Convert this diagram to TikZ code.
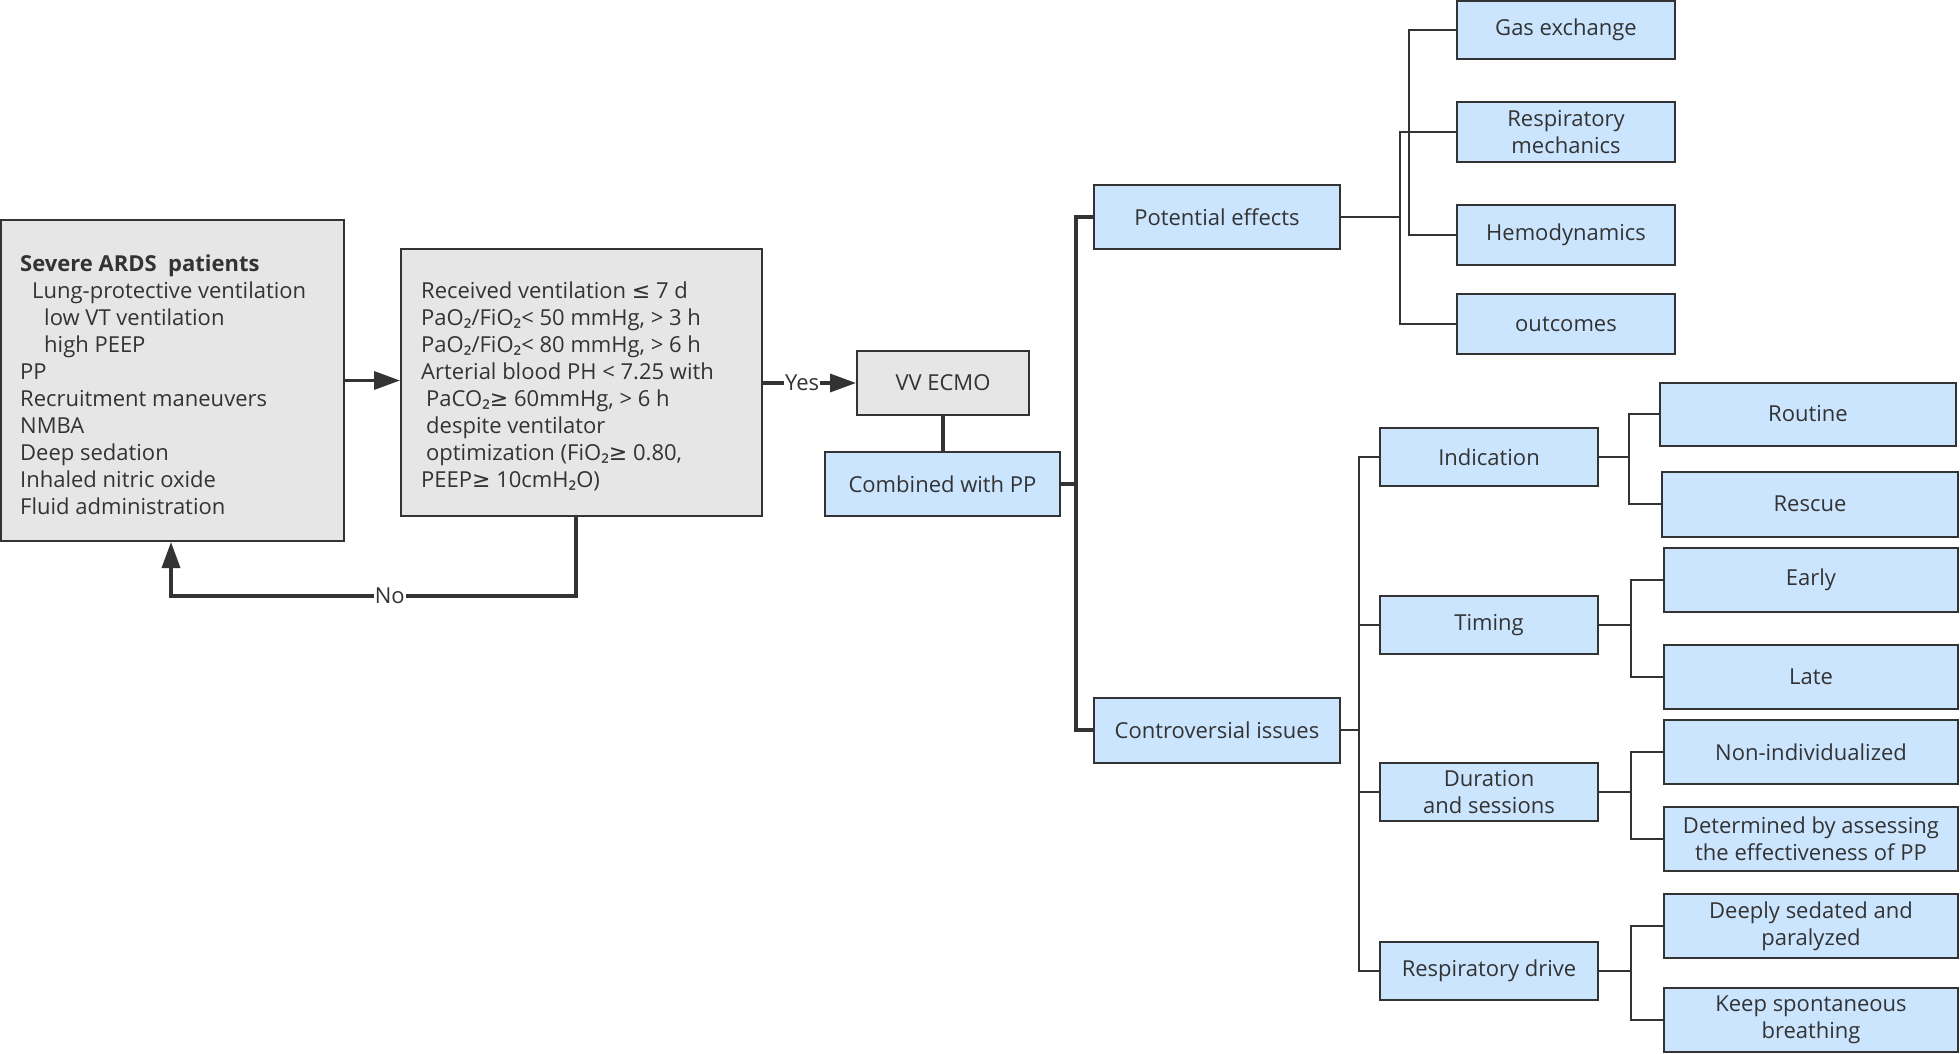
\documentclass[tikz,border=0pt]{standalone}
\usepackage{fontspec}
\setmainfont{Open Sans}
\newfontfamily\symfont{DejaVu Sans}
\newfontfamily\subfont{Noto Sans}
\newcommand{\myle}{{\symfont ≤}}
\newcommand{\myge}{{\symfont ≥}}
\newcommand{\two}{{\subfont ₂}}
\usetikzlibrary{arrows.meta}
\definecolor{bluefill}{HTML}{CCE5FF}
\definecolor{grayfill}{HTML}{E6E6E6}
\definecolor{edgecol}{HTML}{333333}
\definecolor{txtcol}{HTML}{333333}
\tikzset{
  box/.style={draw=edgecol, line width=2pt, fill=bluefill, inner sep=0pt, align=center, text=txtcol},
  gbox/.style={box, fill=grayfill},
  conn/.style={draw=edgecol, line width=3.5pt, line join=miter},
  tconn/.style={draw=edgecol, line width=1.8pt, line join=miter},
  arr/.style={-{Triangle[length=26pt,width=18pt]}},
  lbl/.style={fill=white, inner sep=1pt, text=txtcol},
  txtblock/.style={anchor=west, align=left, inner sep=0pt, text=txtcol}
}
\begin{document}
\begin{tikzpicture}[x=1pt, y=-1pt, font=\fontsize{22}{27}\selectfont]
\fill[white] (0,0) rectangle (1960,1054);
\useasboundingbox (0,0) rectangle (1960,1054);

% left boxes
\node[gbox, minimum width=343pt, minimum height=321pt] (A) at (172.5,380.5) {};
\node[txtblock] (Atext) at (20,385) {\textbf{Severe ARDS\ \ patients}\\
\hspace*{12pt}Lung-protective ventilation\\
\hspace*{24pt}low VT ventilation\\
\hspace*{24pt}high PEEP\\
PP\\
Recruitment maneuvers\\
NMBA\\
Deep sedation\\
Inhaled nitric oxide\\
Fluid administration};

\node[gbox, minimum width=361pt, minimum height=267pt] (B) at (581.5,382.5) {};
\node[txtblock] (Btext) at (421,386) {Received ventilation \myle{} 7 d\\
PaO\two/FiO\two< 50 mmHg, > 3 h\\
PaO\two/FiO\two< 80 mmHg, > 6 h\\
Arterial blood PH < 7.25 with\\
\hspace*{5pt}PaCO\two\myge{} 60mmHg, > 6 h\\
\hspace*{5pt}despite ventilator\\
\hspace*{5pt}optimization (FiO\two\myge{} 0.80,\\
PEEP\myge{} 10cmH\two O)};

\node[gbox, minimum width=172pt, minimum height=64pt] (VV) at (943,383) {VV ECMO};
\node[box, minimum width=235pt, minimum height=64pt] (C) at (942.5,484) {Combined with PP};

\node[box, minimum width=246pt, minimum height=64pt] (PE) at (1217,217) {Potential effects};
\node[box, minimum width=246pt, minimum height=65pt] (CI) at (1217,730) {Controversial issues};

% potential effects children
\node[box, minimum width=218pt, minimum height=58pt] (gas) at (1566,30) {Gas exchange};
\node[box, minimum width=218pt, minimum height=60pt] (resp) at (1566,132) {Respiratory\\mechanics};
\node[box, minimum width=218pt, minimum height=60pt] (hemo) at (1566,235) {Hemodynamics};
\node[box, minimum width=218pt, minimum height=60pt] (outc) at (1566,324) {outcomes};

% controversial issues children
\node[box, minimum width=218pt, minimum height=58pt] (ind) at (1489,457) {Indication};
\node[box, minimum width=218pt, minimum height=58pt] (tim) at (1489,625) {Timing};
\node[box, minimum width=218pt, minimum height=58pt] (dur) at (1489,792) {Duration\\and sessions};
\node[box, minimum width=218pt, minimum height=58pt] (rd) at (1489,971) {Respiratory drive};

\node[box, minimum width=296pt, minimum height=63pt] (rout) at (1808,414) {Routine};
\node[box, minimum width=296pt, minimum height=65pt] (resc) at (1810,504) {Rescue};
\node[box, minimum width=294pt, minimum height=64pt] (early) at (1811,580) {Early};
\node[box, minimum width=294pt, minimum height=64pt] (late) at (1811,677) {Late};
\node[box, minimum width=294pt, minimum height=64pt] (nonind) at (1811,752) {Non-individualized};
\node[box, minimum width=294pt, minimum height=64pt] (det) at (1811,839) {Determined by assessing\\the effectiveness of PP};
\node[box, minimum width=294pt, minimum height=64pt] (deep) at (1811,926) {Deeply sedated and\\paralyzed};
\node[box, minimum width=294pt, minimum height=64pt] (keep) at (1811,1020) {Keep spontaneous\\breathing};

% left connectors
\draw[conn, arr] (A.east) -- (A.east -| B.west);
\draw[conn, arr] (B.east |- VV.west) -- node[lbl, pos=0.42] (yes) {Yes} (VV.west);
\draw[conn, arr] ([xshift=-5.5pt]B.south) -- (576,596) -- node[lbl, pos=0.46] (no) {No} (171,596) -- (171,0 |- A.south);
\draw[conn] (VV.south) -- (VV.south |- C.north);

% trunk
\draw[conn] (C.east) -- (1076,0 |- C.east);
\draw[conn] (PE.west) -- (1076,0 |- PE.west) -- (1076,0 |- CI.west) -- (CI.west);

% potential effects branches
\draw[tconn] (PE.east) -- (1400,0 |- PE.east);
\draw[tconn] (resp.west) -- (1400,0 |- resp.west) -- (1400,0 |- outc.west) -- (outc.west);
\draw[tconn] (gas.west) -- (1409,0 |- gas.west) -- (1409,0 |- hemo.west) -- (hemo.west);

% controversial branches
\draw[tconn] (CI.east) -- (1359,0 |- CI.east);
\draw[tconn] (ind.west) -- (1359,0 |- ind.west) -- (1359,0 |- rd.west) -- (rd.west);
\draw[tconn] (tim.west) -- (1359,0 |- tim.west);
\draw[tconn] (dur.west) -- (1359,0 |- dur.west);

% sub branches
\draw[tconn] (ind.east) -- (1629,0 |- ind.east);
\draw[tconn] (rout.west) -- (1629,0 |- rout.west) -- (1629,0 |- resc.west) -- (resc.west);
\draw[tconn] (tim.east) -- (1631,0 |- tim.east);
\draw[tconn] (early.west) -- (1631,0 |- early.west) -- (1631,0 |- late.west) -- (late.west);
\draw[tconn] (dur.east) -- (1631,0 |- dur.east);
\draw[tconn] (nonind.west) -- (1631,0 |- nonind.west) -- (1631,0 |- det.west) -- (det.west);
\draw[tconn] (rd.east) -- (1631,0 |- rd.east);
\draw[tconn] (deep.west) -- (1631,0 |- deep.west) -- (1631,0 |- keep.west) -- (keep.west);
\end{tikzpicture}
\end{document}
